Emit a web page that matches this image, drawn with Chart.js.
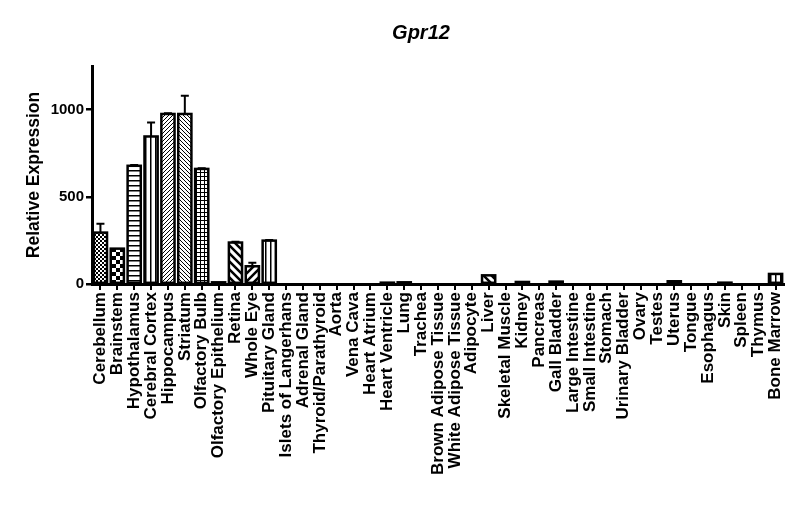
<!doctype html>
<html lang="en">
  <head>
    <meta charset="utf-8">
    <title>Gpr12</title>
    <style>
      * { margin: 0; padding: 0; }
      body { background: white; }
      .chartBox { width: 800px; height: 522px; }
    </style>
  </head>
  <body>
    <div class="chartBox">
      <canvas id="myChart" width="800" height="522"></canvas>
    </div>
    <script src="https://cdn.jsdelivr.net/npm/chart.js"></script>
    <script>
    const titleText = 'Gpr12';
    const yTitle = 'Relative Expression';
    const tissues = ['Cerebellum', 'Brainstem', 'Hypothalamus', 'Cerebral Cortex', 'Hippocampus',
      'Striatum', 'Olfactory Bulb', 'Olfactory Epithelium', 'Retina', 'Whole Eye', 'Pituitary Gland',
      'Islets of Langerhans', 'Adrenal Gland', 'Thyroid/Parathyroid', 'Aorta', 'Vena Cava',
      'Heart Atrium', 'Heart Ventricle', 'Lung', 'Trachea', 'Brown Adipose Tissue',
      'White Adipose Tissue', 'Adipocyte', 'Liver', 'Skeletal Muscle', 'Kidney', 'Pancreas',
      'Gall Bladder', 'Large Intestine', 'Small Intestine', 'Stomach', 'Urinary Bladder', 'Ovary',
      'Testes', 'Uterus', 'Tongue', 'Esophagus', 'Skin', 'Spleen', 'Thymus', 'Bone Marrow'];
    const expression = [295, 203, 678, 846, 975, 975, 660, 10, 238, 102, 249,
      0, 0, 0, 0, 0, 0, 8, 10, 0, 0,
      0, 0, 50, 0, 12, 0, 14, 0, 0, 0,
      0, 0, 0, 16, 0, 0, 8, 0, 0, 58];
    const sem = [50, 0, 4, 80, 4, 105, 4, 0, 4, 20, 4,
      0, 0, 0, 0, 0, 0, 0, 0, 0, 0,
      0, 0, 0, 0, 0, 0, 0, 0, 0, 0,
      0, 0, 0, 0, 0, 0, 0, 0, 0, 0];
    const yTicks = [0, 500, 1000];

    // hatch patterns, repeating every 15 bars like the original
    function makePattern(kind) {
      const c = document.createElement('canvas');
      let s = 8;
      if (kind == 'checkFine' || kind == 'diag' || kind == 'diagBack' || kind == 'grid') s = 4;
      if (kind == 'hlines' || kind == 'vlines') s = 5;
      c.width = s; c.height = s;
      const x = c.getContext('2d');
      x.fillStyle = '#fff';
      x.fillRect(0, 0, s, s);
      x.fillStyle = '#000';
      x.strokeStyle = '#000';
      if (kind == 'checkFine' || kind == 'checkCoarse') {
        x.fillRect(0, 0, s / 2, s / 2);
        x.fillRect(s / 2, s / 2, s / 2, s / 2);
      } else if (kind == 'hlines') {
        x.fillRect(0, 0, s, 1.5);
      } else if (kind == 'vlines') {
        x.fillRect(0, 0, 1.5, s);
      } else if (kind == 'grid') {
        x.fillRect(0, 0, s, 1);
        x.fillRect(0, 0, 1, s);
      } else if (kind == 'diag' || kind == 'diagThick') {
        x.lineWidth = kind == 'diag' ? 1 : 2.5;
        x.beginPath();
        x.moveTo(0, s); x.lineTo(s, 0);
        x.moveTo(-s, s); x.lineTo(s, -s);
        x.moveTo(0, 2 * s); x.lineTo(2 * s, 0);
        x.stroke();
      } else if (kind == 'diagBack' || kind == 'diagThickBack') {
        x.lineWidth = kind == 'diagBack' ? 1 : 2.5;
        x.beginPath();
        x.moveTo(0, 0); x.lineTo(s, s);
        x.moveTo(-s, 0); x.lineTo(s, 2 * s);
        x.moveTo(0, -s); x.lineTo(2 * s, s);
        x.stroke();
      }
      return x.createPattern(c, 'repeat');
    }
    const patternKinds = ['checkFine', 'checkCoarse', 'hlines', 'vlines', 'diag', 'diagBack', 'grid',
      'hlines', 'diagThickBack', 'diagThick', 'vlines', 'checkFine', 'hlines', 'diag', 'grid'];
    const fills = tissues.map((t, i) => makePattern(patternKinds[i % patternKinds.length]));

    // bar outlines centred on the edge (as in Prism), upper error bars, title
    const extras = {
      id: 'extras',
      afterDatasetsDraw(chart) {
        const ctx = chart.ctx;
        const y = chart.scales.y;
        const bars = chart.getDatasetMeta(0).data;
        ctx.save();
        ctx.strokeStyle = '#000';
        bars.forEach((bar, i) => {
          if (!expression[i]) return;
          ctx.lineWidth = 2.5;
          ctx.strokeRect(bar.x - bar.width / 2, bar.y, bar.width, bar.base - bar.y);
          if (!sem[i]) return;
          const top = y.getPixelForValue(expression[i] + sem[i]);
          ctx.lineWidth = 2;
          ctx.beginPath();
          ctx.moveTo(bar.x, bar.y);
          ctx.lineTo(bar.x, top);
          ctx.moveTo(bar.x - 4, top);
          ctx.lineTo(bar.x + 4, top);
          ctx.stroke();
        });
        ctx.font = 'italic bold 20px "Liberation Sans", Arial, sans-serif';
        ctx.fillStyle = '#000';
        ctx.textAlign = 'center';
        ctx.textBaseline = 'middle';
        ctx.fillText(titleText, 421, 33);
        ctx.restore();
      }
    };

    const data = {
      labels: tissues,
      datasets: [{
        data: expression,
        backgroundColor: fills,
        borderWidth: 0,
        barPercentage: 0.78,
        categoryPercentage: 1
      }]
    };

    const config = {
      type: 'bar',
      data,
      plugins: [extras],
      options: {
        responsive: false,
        animation: false,
        layout: { padding: { top: 66, left: 0, right: 16, bottom: 45 } },
        plugins: {
          legend: { display: false },
          tooltip: { enabled: false }
        },
        scales: {
          x: {
            border: { display: true, color: '#000', width: 3 },
            grid: { drawOnChartArea: false, color: '#000', lineWidth: 2, tickLength: 6, offset: false },
            ticks: {
              autoSkip: false, minRotation: 90, maxRotation: 90, padding: 2,
              color: '#000',
              font: { family: '"Liberation Sans", Arial, sans-serif', size: 17, weight: 'bold' }
            }
          },
          y: {
            min: 0,
            max: 1250,
            afterBuildTicks: (scale) => { scale.ticks = yTicks.map(v => ({ value: v })); },
            afterFit: (scale) => { scale.width = 92; },
            border: { display: true, color: '#000', width: 3 },
            grid: { drawOnChartArea: false, color: '#000', lineWidth: 2.5, tickLength: 6 },
            ticks: {
              padding: 2, color: '#000',
              callback: (v) => String(v),
              font: { family: '"Liberation Sans", Arial, sans-serif', size: 15, weight: 'bold' }
            },
            title: {
              display: true, text: yTitle, color: '#000', padding: { top: 24, bottom: 0 },
              font: { family: '"Liberation Sans", Arial, sans-serif', size: 17.5, weight: 'bold' }
            }
          }
        }
      }
    };

    const myChart = new Chart(document.getElementById('myChart'), config);
    </script>
  </body>
</html>
